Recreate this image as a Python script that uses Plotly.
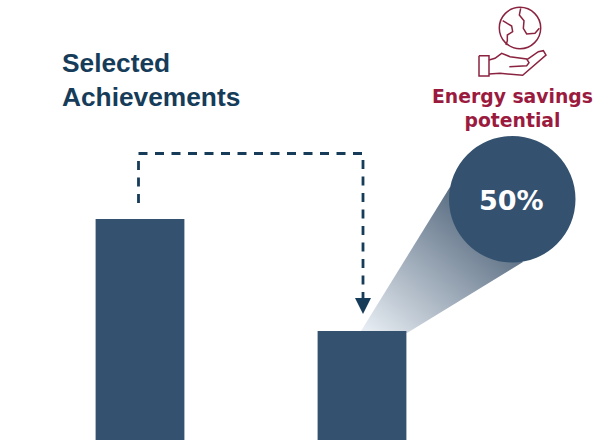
import base64
import plotly.graph_objects as go

categories = [0, 1]
values = [100, 50]
title_text = "<b>Selected<br>Achievements</b>"
callout_text = "<b>Energy savings<br>potential</b>"
circle_text = "<b>50%</b>"

W, H = 616, 440
BAR = "#34526f"
NAVY = "#163c59"
RED = "#9b1b3f"
ICON = "#8a2340"

def fx(p):
    return p / W

def fy(p):
    return 1 - p / H

def path(points, close=False):
    d = "M" + " L".join(f"{fx(x):.5f},{fy(y):.5f}" for x, y in points)
    return d + (" Z" if close else "")

def zpts(points):
    return [(420 + x / 3, y / 3) for x, y in points]

cone_svg = f'''<svg xmlns="http://www.w3.org/2000/svg" width="{W}" height="{H}" viewBox="0 0 {W} {H}">
<defs><linearGradient id="g" gradientUnits="userSpaceOnUse" x1="372" y1="335" x2="478" y2="215">
<stop offset="0" stop-color="#e6ecf2"/><stop offset="1" stop-color="#5c6f84"/></linearGradient></defs>
<polygon points="361,331 407,333 523,262 470,205 450,187" fill="url(#g)"/></svg>'''
cone_uri = "data:image/svg+xml;base64," + base64.b64encode(cone_svg.encode()).decode()

fig = go.Figure(go.Bar(x=categories, y=values, width=0.4, marker=dict(color=BAR, line_width=0),
                       hoverinfo="skip"))

line = dict(color=NAVY, width=2.8, dash="9px,7.5px")
shapes = [
    dict(type="path", xref="paper", yref="paper", layer="above", line=line,
         path=path([(138.5, 203), (138.5, 153.5), (363, 153.5), (363, 300)])),
    dict(type="path", xref="paper", yref="paper", layer="above", line_width=0, fillcolor=NAVY,
         path=path([(355, 298), (371, 298), (363, 314)], True)),
    dict(type="circle", xref="paper", yref="paper", layer="above", line_width=0, fillcolor=BAR,
         x0=fx(449), x1=fx(575.5), y0=fy(262.5), y1=fy(136)),
    dict(type="circle", xref="paper", yref="paper", layer="above", fillcolor="rgba(0,0,0,0)",
         line=dict(color=ICON, width=1.5),
         x0=fx(499.3), x1=fx(540.7), y0=fy(48.7), y1=fy(7.3)),
]
icon_paths = [
    [(248, 62), (258, 68), (275, 78), (278, 95), (262, 105), (262, 122), (258, 135)],
    [(302, 25), (298, 45), (312, 62), (310, 85), (320, 102), (345, 100), (358, 85)],
    [(207, 180), (225, 175), (245, 160), (270, 170), (320, 177), (327, 188), (320, 197), (268, 200)],
    [(207, 222), (240, 220), (308, 226), (378, 165), (370, 152), (355, 155), (322, 178)],
    [(177, 167), (207, 167), (207, 228), (177, 228), (177, 167)],
]
for p in icon_paths:
    shapes.append(dict(type="path", xref="paper", yref="paper", layer="above",
                       line=dict(color=ICON, width=1.5), path=path(zpts(p))))

annotations = [
    dict(text=title_text, xref="paper", yref="paper", x=fx(60), y=fy(80), xanchor="left", yanchor="middle",
         showarrow=False, align="left", font=dict(family="Liberation Sans", size=26.3, color=NAVY)),
    dict(text=callout_text, xref="paper", yref="paper", x=fx(512.5), y=fy(108.5), xanchor="center", yanchor="middle",
         showarrow=False, align="center", font=dict(family="DejaVu Sans", size=18.8, color=RED)),
    dict(text=circle_text, xref="paper", yref="paper", x=fx(511.5), y=fy(200), xanchor="center", yanchor="middle",
         showarrow=False, font=dict(family="DejaVu Sans", size=27, color="white")),
]

fig.update_layout(
    width=W, height=H, autosize=False, margin=dict(l=0, r=0, t=0, b=0),
    paper_bgcolor="white", plot_bgcolor="rgba(0,0,0,0)", showlegend=False,
    xaxis=dict(range=[-140 / 222, 476 / 222], visible=False, fixedrange=True),
    yaxis=dict(range=[3 / 2.24, 443 / 2.24], visible=False, fixedrange=True),
    shapes=shapes, annotations=annotations,
    images=[dict(source=cone_uri, xref="paper", yref="paper", x=0, y=1, sizex=1, sizey=1,
                 xanchor="left", yanchor="top", sizing="stretch", layer="below")],
)
fig.write_html("out.html", config=dict(displayModeBar=False),
               post_script="document.body.style.margin='0';document.body.style.overflow='hidden';")
